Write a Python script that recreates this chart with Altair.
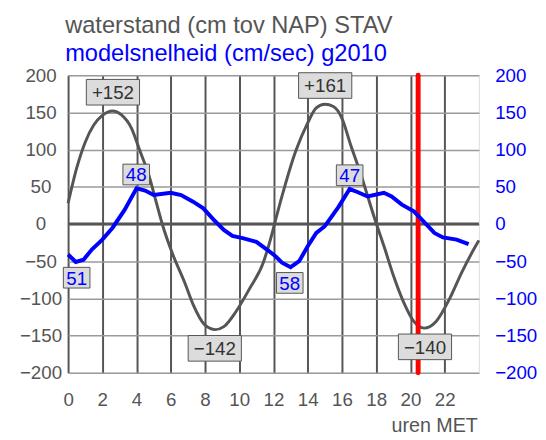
import altair as alt
import pandas as pd

# ---- data ----
wl_hours = [0, 0.5, 1.0, 1.5, 2.0, 2.6, 3.1, 3.7, 4.2, 4.7, 5.2, 5.5, 6.1, 6.8, 7.3, 8.0, 8.6, 9.1,
            9.8, 10.6, 11.4, 11.95, 12.15, 12.7, 13.3, 14.0, 14.5, 15.0, 15.5, 16.0, 16.5, 17.1,
            17.9, 18.5, 19.0, 19.6, 20.2, 20.8, 21.5, 22.3, 23.0, 23.8, 24.0]
wl_values = [28, 75, 110, 133, 146, 152, 147, 129, 98, 67, 25, 0, -40, -78, -108, -136, -142, -138,
             -118, -87, -52, -10, 8, 54, 98, 136, 156, 161, 158, 142, 107, 67,
             8, -33, -69, -105, -131, -140, -131, -100, -65, -30, -22]

sp_hours = [0, 0.45, 0.9, 1.4, 2.0, 2.6, 3.3, 4.0, 4.5, 5.0, 6.0, 6.6, 7.3, 7.9, 8.5, 9.1, 9.6, 10.2,
            11.0, 11.6, 12.1, 12.5, 13.0, 13.5, 14.0, 14.5, 15.0, 15.8, 16.45, 16.9, 17.5, 18.45,
            18.9, 19.5, 20.2, 20.75, 21.4, 21.9, 22.7, 23.4]
sp_values = [-41, -51, -48, -34, -21, -5, 19, 48, 45, 39, 42, 39, 30, 21, 6, -8, -16, -19,
             -24, -34, -43, -52, -58, -50, -30, -12, -3, 23, 47, 43, 37, 42,
             37, 26, 17, 4, -12, -18, -21, -27]

wl_ext_hours = [2.62, 15.02, 8.57, 20.85]
wl_ext_values = [152, 161, -142, -140]
wl_ext_labels = ["+152", "+161", "\u2212142", "\u2212140"]

sp_ext_hours = [3.98, 16.45, 0.5, 12.95]
sp_ext_values = [48, 47, -51, -58]
sp_ext_labels = ["48", "47", "51", "58"]

now_hour = [20.45]
x_ticks = [0, 2, 4, 6, 8, 10, 12, 14, 16, 18, 20, 22]
y_ticks = [-200, -150, -100, -50, 0, 50, 100, 150, 200]

title1 = "waterstand (cm tov NAP) STAV"
title2 = "modelsnelheid (cm/sec) g2010"
x_title = "uren MET"

GRAY = "#555555"
BLUE = "#0000ff"
FONT = "Liberation Sans"

W, H = 417, 302
XS = alt.Scale(domain=[0, 24], nice=False, zero=False)
YS = alt.Scale(domain=[-200, 200], nice=False, zero=False)

wl_df = pd.DataFrame({"h": wl_hours, "v": wl_values})
sp_df = pd.DataFrame({"h": sp_hours, "v": sp_values})
wl_ext = pd.DataFrame({"h": wl_ext_hours, "v": wl_ext_values, "t": wl_ext_labels})
sp_ext = pd.DataFrame({"h": sp_ext_hours, "v": sp_ext_values, "t": sp_ext_labels})

X_AXIS = alt.Axis(
    values=x_ticks, title=None, grid=True, gridColor=GRAY, gridWidth=2, ticks=False, tickSize=0,
    domain=False, labelColor=GRAY, labelFontSize=19, labelPadding=18, labelFont=FONT,
    labelFlush=False)
YL_AXIS = alt.Axis(
    orient="left", values=y_ticks, title=None, grid=True, gridColor="#9a9a9a", gridWidth=1.5,
    ticks=False, tickSize=0, domain=False, labelColor=GRAY, labelFontSize=19, labelPadding=28,
    labelAlign="center", labelFont=FONT, labelFlush=False)
YR_AXIS = alt.Axis(
    orient="right", values=y_ticks, title=None, grid=False, ticks=False, tickSize=0,
    domain=False, labelColor=BLUE, labelFontSize=19, labelPadding=16, labelAlign="left",
    labelFont=FONT, labelFlush=False)


def xe():
    return alt.X("h:Q", scale=XS, axis=X_AXIS)


def yl():
    return alt.Y("v:Q", scale=YS, axis=YL_AXIS)


def yr():
    return alt.Y("v:Q", scale=YS, axis=YR_AXIS)


# left group
wl_line = alt.Chart(wl_df).mark_line(color=GRAY, strokeWidth=3, interpolate="monotone").encode(
    x=xe(), y=yl())
zero_rule = alt.Chart(pd.DataFrame({"v": [0]})).mark_rule(color=GRAY, strokeWidth=3).encode(
    y=yl())
now_rule = alt.Chart(pd.DataFrame({"h": now_hour})).mark_rule(
    color="#ff0000", strokeWidth=5, strokeCap="round").encode(x=xe())
t1 = alt.Chart(pd.DataFrame({"t": [title1]})).mark_text(
    align="left", baseline="alphabetic", fontSize=24, color=GRAY, font=FONT).encode(
    x=alt.value(-3), y=alt.value(-43), text="t:N")
t2 = alt.Chart(pd.DataFrame({"t": [title2]})).mark_text(
    align="left", baseline="alphabetic", fontSize=24, color=BLUE, font=FONT).encode(
    x=alt.value(-3), y=alt.value(-14), text="t:N")
t3 = alt.Chart(pd.DataFrame({"t": [x_title]})).mark_text(
    align="right", baseline="alphabetic", fontSize=20, color=GRAY, font=FONT).encode(
    x=alt.value(W - 1), y=alt.value(362), text="t:N")

left = alt.layer(zero_rule, wl_line, now_rule, t1, t2, t3)

# right group
sp_line = alt.Chart(sp_df).mark_line(color=BLUE, strokeWidth=4, interpolate="linear").encode(
    x=xe(), y=yr())

GBOX = "M-1,-0.4815L1,-0.4815L1,0.4815L-1,0.4815Z"
BBOX = "M-1,-0.778L1,-0.778L1,0.778L-1,0.778Z"


def boxes(df, cond, shape, size, yoff, color):
    src = alt.Chart(df).transform_filter(cond)
    box = src.mark_point(shape=shape, size=size, filled=True, fill="#dcdcdc", stroke=GRAY,
                         strokeWidth=1, opacity=1, yOffset=yoff).encode(x=xe(), y=yr())
    txt = src.mark_text(fontSize=19, color=color, font=FONT, baseline="middle", align="center",
                        yOffset=yoff + 1).encode(x=xe(), y=yr(), text="t:N")
    return [box, txt]


labels = []
labels += boxes(wl_ext, "datum.v > 0", GBOX, 2916, -19, "#333333")
labels += boxes(wl_ext, "datum.v < 0", GBOX, 2916, 19, "#333333")
labels += boxes(sp_ext, "datum.v > 0", BBOX, 729, -14, BLUE)
labels += boxes(sp_ext, "datum.v < 0", BBOX, 729, 16, BLUE)

right = alt.layer(sp_line, *labels)

chart = alt.layer(left, right).resolve_scale(y="independent").properties(
    width=W, height=H,
    autosize=alt.AutoSizeParams(type="none"),
    padding={"left": 61, "top": 65, "right": 60, "bottom": 65},
).configure_view(stroke=GRAY, strokeWidth=2).configure(background="white")

chart.save("out.html", embed_options={"renderer": "svg", "actions": False})
